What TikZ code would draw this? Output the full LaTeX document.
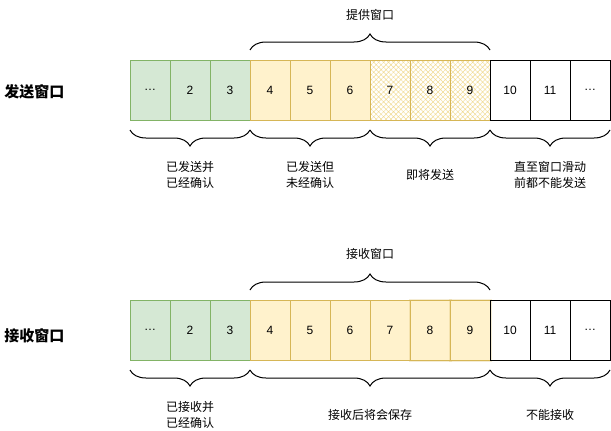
\documentclass[tikz,border=0pt]{standalone}
\usepackage{fontspec}
\setmainfont{Liberation Sans}
\newfontfamily\cjk{Noto Sans CJK SC}
\usetikzlibrary{positioning,decorations.pathreplacing,patterns.meta}
\definecolor{donefill}{HTML}{D5E8D4}
\definecolor{doneline}{HTML}{82B366}
\definecolor{waitfill}{HTML}{FFF2CC}
\definecolor{waitline}{HTML}{D6B656}
\definecolor{hatchcol}{HTML}{F0DA92}

\begin{document}
\begin{tikzpicture}[x=1pt, y=-1pt, every node/.style={font=\fontsize{12}{16}\selectfont}]
  \tikzstyle{cell}=[draw, minimum width=40pt, minimum height=60pt, inner sep=0pt, outer sep=0pt, line width=1pt]
  \tikzstyle{done}=[cell, fill=donefill, draw=doneline]
  \tikzstyle{wait}=[cell, fill=waitfill, draw=waitline]
  \tikzstyle{hatch}=[cell, draw=waitline, pattern={Hatch[angle=45, distance=3.5pt, line width=0.45pt]}, pattern color=hatchcol]
  \tikzstyle{sketch}=[wait, preaction={draw=waitline, line width=3pt, draw opacity=0.25}]
  \tikzstyle{free}=[cell, draw=black]
  \tikzstyle{curly}=[decorate, decoration={brace, amplitude=16pt}, line width=1pt]
  \tikzstyle{note}=[align=center, font=\cjk\fontsize{12}{16}\selectfont]
  \tikzstyle{title}=[font=\cjk\bfseries\fontsize{15}{16}\selectfont]

\useasboundingbox (0,0) rectangle (611,431);

% send window
\node [done] (s1) at (150,90) {\ldots};
\node [done, right=0pt of s1] (s2) {2};
\node [done, right=0pt of s2] (s3) {3};
\node [wait, right=0pt of s3] (s4) {4};
\node [wait, right=0pt of s4] (s5) {5};
\node [wait, right=0pt of s5] (s6) {6};
\node [hatch, right=0pt of s6] (s7) {7};
\node [hatch, right=0pt of s7] (s8) {8};
\node [hatch, right=0pt of s8] (s9) {9};
\node [free, right=0pt of s9] (s10) {10};
\node [free, right=0pt of s10] (s11) {11};
\node [free, right=0pt of s11] (s12) {\ldots};
\node [title, left=62pt of s1, yshift=-2pt] (sendwin) {发送窗口};

% receive window
\node [done, below=180pt of s1] (r1) {\ldots};
\node [done, right=0pt of r1] (r2) {2};
\node [done, right=0pt of r2] (r3) {3};
\node [wait, right=0pt of r3] (r4) {4};
\node [wait, right=0pt of r4] (r5) {5};
\node [wait, right=0pt of r5] (r6) {6};
\node [wait, right=0pt of r6] (r7) {7};
\node [sketch, right=0pt of r7] (r8) {8};
\node [sketch, right=0pt of r8] (r9) {9};
\node [free, right=0pt of r9] (r10) {10};
\node [free, right=0pt of r10] (r11) {11};
\node [free, right=0pt of r11] (r12) {\ldots};
\node [title, left=62pt of r1, yshift=-6pt] (recvwin) {接收窗口};

\draw [curly] ([yshift=10pt]s4.north west) -- ([yshift=10pt]s9.north east)
  node (offer) [note, midway, yshift=35pt] {提供窗口};
\draw [curly] ([yshift=-10pt]s3.south east) -- ([yshift=-10pt]s1.south west)
  node (sacked) [note, midway, yshift=-45pt] {已发送并\\已经确认};
\draw [curly] ([yshift=-10pt]s6.south east) -- ([yshift=-10pt]s4.south west)
  node (sunacked) [note, midway, yshift=-45pt] {已发送但\\未经确认};
\draw [curly] ([yshift=-10pt]s9.south east) -- ([yshift=-10pt]s7.south west)
  node (snext) [note, midway, yshift=-45pt] {即将发送};
\draw [curly] ([yshift=-10pt]s12.south east) -- ([yshift=-10pt]s10.south west)
  node (sblocked) [note, midway, yshift=-45pt] {直至窗口滑动\\前都不能发送};

\draw [curly] ([yshift=10pt]r4.north west) -- ([yshift=10pt]r9.north east)
  node (recv) [note, midway, yshift=36pt] {接收窗口};
\draw [curly] ([yshift=-10pt]r3.south east) -- ([yshift=-10pt]r1.south west)
  node (racked) [note, midway, yshift=-45pt] {已接收并\\已经确认};
\draw [curly] ([yshift=-10pt]r9.south east) -- ([yshift=-10pt]r4.south west)
  node (rkeep) [note, midway, yshift=-45pt] {接收后将会保存};
\draw [curly] ([yshift=-10pt]r12.south east) -- ([yshift=-10pt]r10.south west)
  node (rblocked) [note, midway, yshift=-45pt] {不能接收};

\end{tikzpicture}
\end{document}
